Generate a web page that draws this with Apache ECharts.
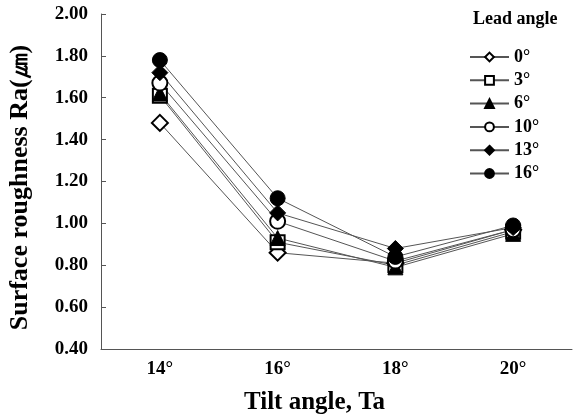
<!DOCTYPE html>
<html>
<head>
<meta charset="utf-8">
<script src="https://cdn.jsdelivr.net/npm/echarts@6/dist/echarts.min.js"></script>
<style>
  html, body { margin: 0; padding: 0; background: #fff; }
  #chart { width: 573px; height: 416px; }
</style>
</head>
<body>
<div id="chart"></div>
<script>
const categories = ["14°", "16°", "18°", "20°"];
const leadAngles = ["0°", "3°", "6°", "10°", "13°", "16°"];
const lead0 = [1.48, 0.86, 0.81, 0.97];
const lead3 = [1.61, 0.91, 0.80, 0.96];
const lead6 = [1.62, 0.93, 0.79, 0.95];
const lead10 = [1.67, 1.01, 0.82, 0.97];
const lead13 = [1.72, 1.05, 0.88, 0.98];
const lead16 = [1.78, 1.12, 0.84, 0.99];
const yTicks = { min: 0.4, max: 2.0, step: 0.2 };

const font = "'Liberation Serif', 'Times New Roman', serif";
const seriesData = [lead0, lead3, lead6, lead10, lead13, lead16];
const symbols = ["emptyDiamond", "emptyRect", "triangle", "emptyCircle", "diamond", "circle"];
const sizes = [16, 14, 15, 15, 16, 15];

let chart = echarts.init(document.getElementById("chart"));
let option = {
  backgroundColor: "#fff",
  animation: false,
  title: {
    text: "Lead angle",
    left: 473,
    top: 10,
    padding: 0,
    textStyle: { fontFamily: font, fontWeight: "bold", fontSize: 18, color: "#000" },
  },
  legend: {
    orient: "vertical",
    left: 469,
    top: 48,
    padding: 0,
    itemWidth: 39,
    itemHeight: 11,
    itemGap: 5.3,
    textStyle: { fontFamily: font, fontWeight: "bold", fontSize: 18, lineHeight: 11, color: "#000", padding: [4, 0, 0, 0] },
    data: leadAngles,
  },
  grid: { left: 101, right: 1, top: 14, bottom: 67, outerBoundsMode: "none", containLabel: false },
  xAxis: {
    type: "category",
    data: categories,
    boundaryGap: true,
    name: "Tilt angle, Ta",
    nameLocation: "middle",
    nameGap: 41,
    nameTextStyle: { fontFamily: font, fontWeight: "bold", fontSize: 25, color: "#000", padding: [0, 44, 0, 0] },
    axisLine: { lineStyle: { color: "#555", width: 1 } },
    axisTick: { inside: true, length: 5, lineStyle: { color: "#555" } },
    axisLabel: { fontFamily: font, fontWeight: "bold", fontSize: 19, color: "#000", margin: 11 },
    splitLine: { show: false },
  },
  yAxis: {
    type: "value",
    min: yTicks.min,
    max: yTicks.max,
    interval: yTicks.step,
    name: "Surface roughness Ra(㎛)",
    nameLocation: "middle",
    nameGap: 68,
    nameTextStyle: { fontFamily: font, fontWeight: "bold", fontSize: 26, color: "#000", padding: [0, 12, 0, 0] },
    axisLine: { show: true, lineStyle: { color: "#555", width: 1 } },
    axisTick: { show: true, inside: true, length: 5, lineStyle: { color: "#555" } },
    axisLabel: {
      fontFamily: font, fontWeight: "bold", fontSize: 19, color: "#000", margin: 13,
      formatter: (v) => v.toFixed(2),
    },
    splitLine: { show: false },
  },
  series: leadAngles.map((name, i) => ({
    name: name,
    type: "line",
    data: seriesData[i],
    symbol: symbols[i],
    symbolSize: sizes[i],
    showAllSymbol: true,
    lineStyle: { color: "#555", width: 1 },
    itemStyle: { color: "#000", borderColor: "#000", borderWidth: 1 },
    emphasis: { disabled: true },
  })),
};
chart.setOption(option);
</script>
</body>
</html>
